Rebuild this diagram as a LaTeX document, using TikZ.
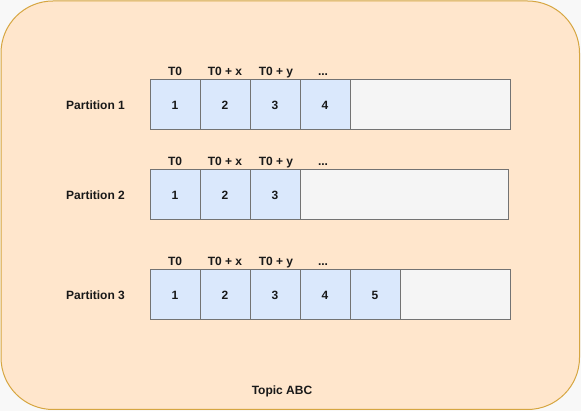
\documentclass[tikz,border=0pt]{standalone}
\usepackage{fontspec}
\setmainfont{Liberation Sans}
\definecolor{topicfill}{HTML}{FFE6CC}
\definecolor{topicline}{HTML}{D6A641}
\definecolor{cellfill}{HTML}{DAE8FC}
\definecolor{cellline}{HTML}{737373}
\definecolor{emptyfill}{HTML}{F5F5F5}
\definecolor{pagebg}{HTML}{F8F8F8}
\tikzset{
  lbl/.style={font=\fontsize{12}{14}\selectfont\bfseries, inner sep=0pt, text height=8.6pt, text depth=0pt, text=black!90},
  cellbox/.style={draw=cellline, fill=cellfill, line width=1pt},
  emptybox/.style={draw=cellline, fill=emptyfill, line width=1pt},
}
\begin{document}
\begin{tikzpicture}[x=1pt,y=-1pt]
\fill[pagebg] (0,0) rectangle (581,411);
\useasboundingbox (0,0) rectangle (581,411);
\draw[fill=topicfill, draw=topicline, line width=1pt, rounded corners=52pt] (1,1) rectangle (579.5,409.5);
\node[lbl] (topic) at (282,390.5) {Topic ABC};
% Row 1
\node[lbl] (p1) at (95.5,105) {Partition 1};
\draw[emptybox] (350,80) rectangle (510,130);
\foreach \i/\x in {1/150,2/200,3/250,4/300}{
  \draw[cellbox] (\x,80) rectangle ++(50,50);
  \node[lbl] (r1c\i) at (\x+25,105) {\i};
}
\node[lbl] (r1t1) at (175,71.5) {T0};
\node[lbl] (r1t2) at (225,71.5) {T0 + x};
\node[lbl] (r1t3) at (276,71.5) {T0 + y};
\node[lbl] (r1t4) at (323,71.5) {...};
% Row 2
\node[lbl] (p2) at (95.5,195) {Partition 2};
\draw[emptybox] (300,170) rectangle (508,220);
\foreach \i/\x in {1/150,2/200,3/250}{
  \draw[cellbox] (\x,170) rectangle ++(50,50);
  \node[lbl] (r2c\i) at (\x+25,195) {\i};
}
\node[lbl] (r2t1) at (175,161.5) {T0};
\node[lbl] (r2t2) at (225,161.5) {T0 + x};
\node[lbl] (r2t3) at (276,161.5) {T0 + y};
\node[lbl] (r2t4) at (323,161.5) {...};
% Row 3
\node[lbl] (p3) at (95.5,295) {Partition 3};
\draw[emptybox] (400,270) rectangle (510,320);
\foreach \i/\x in {1/150,2/200,3/250,4/300,5/350}{
  \draw[cellbox] (\x,270) rectangle ++(50,50);
  \node[lbl] (r3c\i) at (\x+25,295) {\i};
}
\node[lbl] (r3t1) at (175,261.5) {T0};
\node[lbl] (r3t2) at (225,261.5) {T0 + x};
\node[lbl] (r3t3) at (276,261.5) {T0 + y};
\node[lbl] (r3t4) at (323,261.5) {...};
\end{tikzpicture}
\end{document}
